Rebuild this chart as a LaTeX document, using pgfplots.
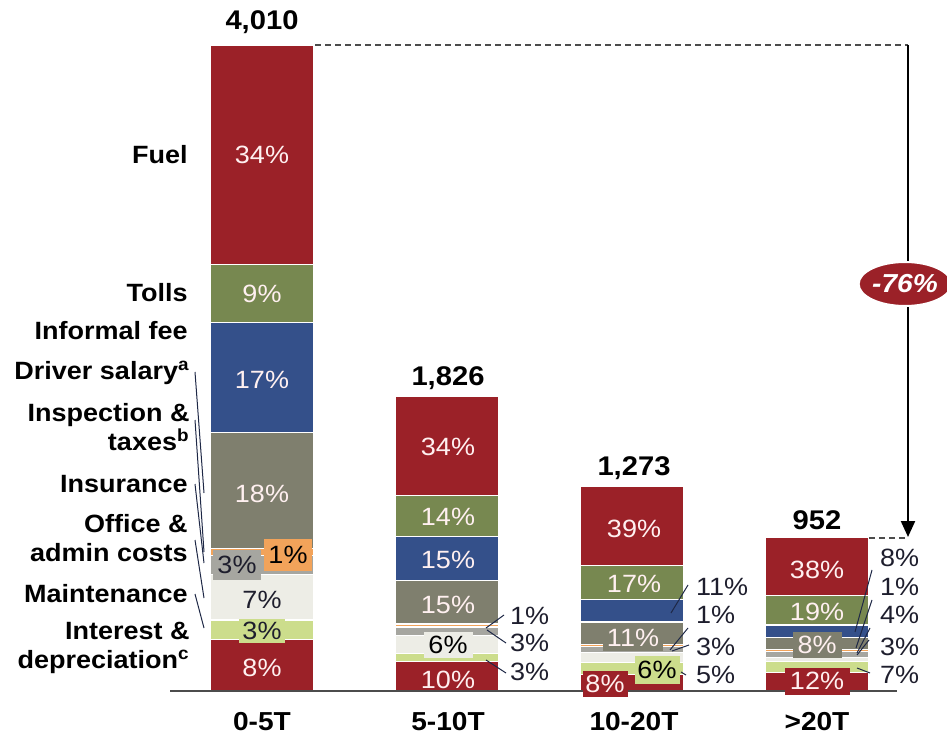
\documentclass[border=0pt]{standalone}
\usepackage{pgfplots}
\pgfplotsset{compat=1.18}
\usepackage{pgfplotstable}
\usepackage{fontspec}
\setmainfont{Liberation Sans}[FakeStretch=1.08]
\usetikzlibrary{shapes.geometric, arrows.meta}

\definecolor{cred}{RGB}{155,33,40}
\definecolor{cgreen}{RGB}{119,136,80}
\definecolor{cblue}{RGB}{52,80,138}
\definecolor{cdriver}{RGB}{127,127,110}
\definecolor{cinsur}{RGB}{166,166,160}
\definecolor{corange}{RGB}{242,163,90}
\definecolor{coffice}{RGB}{237,237,230}
\definecolor{cmaint}{RGB}{204,221,140}
\definecolor{cline}{RGB}{30,40,70}
\definecolor{ctext}{RGB}{30,30,45}

% cost per truck class, split by item, bottom to top
\pgfplotstableread{
x interest maint office insur inspect driver informal tolls fuel
0 320.8 120.3 280.7 120.3 40.1 721.8 681.7 360.9 1363.4
1 180.8 54.2 108.5 54.2 18.1 271.2 271.2 253.1 614.7
2 100.8 75.6 63.0 37.8 12.6 138.6 138.6 214.3 491.6
3 114.2 66.6 28.6 38.1 9.5 76.2 76.2 180.9 361.8
}\costs

\begin{document}
\begin{tikzpicture}
\begin{axis}[
  scale only axis, width=473.5pt, height=370pt,
  xmin=-1.4162, xmax=3.7027, ymin=-304.2, ymax=4289.3,
  hide axis, clip=false,
  ybar stacked, bar width=0.557,
  seg/.style={draw=white, line width=0.6pt},
]
\addplot[seg, fill=cred]    table[x=x, y=interest]{\costs};
\addplot[seg, fill=cmaint]  table[x=x, y=maint]{\costs};
\addplot[seg, fill=coffice] table[x=x, y=office]{\costs};
\addplot[seg, fill=cinsur]  table[x=x, y=insur]{\costs};
\addplot[seg, fill=corange] table[x=x, y=inspect]{\costs};
\addplot[seg, fill=cdriver] table[x=x, y=driver]{\costs};
\addplot[seg, fill=cblue]   table[x=x, y=informal]{\costs};
\addplot[seg, fill=cgreen]  table[x=x, y=tolls]{\costs};
\addplot[seg, fill=cred]    table[x=x, y=fuel]{\costs};
\coordinate (O) at (rel axis cs:0,1);
\end{axis}

% annotations in reference pixel units (origin top left)
\begin{scope}[shift={(O)}, x=0.5pt, y=-0.5pt, font=\fontsize{12.5}{14}\selectfont,
  lab/.style={font=\bfseries\fontsize{12.5}{14.5}\selectfont, anchor=east, align=right,
    text=black, inner xsep=0pt},
  pin/.style={draw=cline, line width=0.5pt},
  wt/.style={text=white!94!red},
  dk/.style={text=ctext},
  box/.style={inner sep=0pt, minimum width=#1*0.5pt},
  tot/.style={font=\bfseries\fontsize{13.5}{15}\selectfont},
  rl/.style={anchor=west, text=ctext}]

\draw[line width=1pt, black!70] (170,691) -- (897,691);

% totals and categories
\node[tot] at (262,22) {4,010};
\node[tot] at (448,378) {1,826};
\node[tot] at (634,468) {1,273};
\node[tot] at (817,520) {952};
\node[tot, font=\bfseries\fontsize{13}{15}\selectfont] at (262,722) {0-5T};
\node[tot, font=\bfseries\fontsize{13}{15}\selectfont] at (448,722) {5-10T};
\node[tot, font=\bfseries\fontsize{13}{15}\selectfont] at (634,722) {10-20T};
\node[tot, font=\bfseries\fontsize{13}{15}\selectfont] at (817,722) {>20T};

% item names
\node[lab] at (188,155) {Fuel};
\node[lab] at (188,293) {Tolls};
\node[lab] at (188,331) {Informal fee};
\node[lab] at (190,373) {Driver salary\textsuperscript{a}};
\node[lab] at (190,427) {Inspection \&\\taxes\textsuperscript{b}};
\node[lab] at (188,484) {Insurance};
\node[lab] at (188,538) {Office \&\\admin costs};
\node[lab] at (188,594) {Maintenance};
\node[lab] at (190,648) {Interest \&\\depreciation\textsuperscript{c}};
\draw[pin] (195,372) -- (204,493);
\draw[pin] (195,420) -- (204,552);
\draw[pin] (195,484) -- (204,563);
\draw[pin] (195,540) -- (204,598);
\draw[pin] (195,594) -- (204,628);

% 0-5T
\node[wt] at (262,155) {34\%};
\node[wt] at (262,294) {9\%};
\node[wt] at (262,380) {17\%};
\node[wt] at (262,494) {18\%};
\node[dk, fill=cinsur, box=48, minimum height=15pt] at (237,565) {3\%};
\node[text=black, fill=corange, box=48, minimum height=16pt] at (288,555) {1\%};
\node[dk] at (262,600) {7\%};
\node[dk, fill=cmaint, box=46, minimum height=12pt] at (262,631) {3\%};
\node[wt] at (262,668) {8\%};

% 5-10T
\node[wt] at (448,447) {34\%};
\node[wt] at (448,517) {14\%};
\node[wt] at (448,560) {15\%};
\node[wt] at (448,605) {15\%};
\node[text=black, fill=coffice, box=49, minimum height=13pt] at (448,645) {6\%};
\node[wt] at (448,680) {10\%};
\node[rl] at (503,616) {1\%};
\node[rl] at (503,643) {3\%};
\node[rl] at (503,672) {3\%};
\draw[pin] (504,615) -- (486,628);
\draw[pin] (506,643) -- (487,630);
\draw[pin] (506,673) -- (486,660);

% 10-20T
\node[wt] at (634,529) {39\%};
\node[wt] at (634,584) {17\%};
\node[wt, fill=cdriver, box=60, minimum height=13pt] at (633,638) {11\%};
\node[text=black, fill=cmaint, box=45, minimum height=14pt] at (657,670) {6\%};
\node[wt, fill=cred, box=45, minimum height=13pt] at (605,684) {8\%};
\node[rl] at (689,587) {11\%};
\node[rl] at (689,615) {1\%};
\node[rl] at (689,647) {3\%};
\node[rl] at (689,675) {5\%};
\draw[pin] (688,585) -- (671,613);
\draw[pin] (688,628) -- (670,650);
\draw[pin] (689,645) -- (672,651);
\draw[pin] (686,675) -- (681,672);

% >20T
\node[wt] at (817,570) {38\%};
\node[wt] at (817,612) {19\%};
\node[wt, fill=cdriver, box=49, minimum height=13pt] at (817,645) {8\%};
\node[wt, fill=cred, box=65, minimum height=13.5pt] at (817,681) {12\%};
\node[rl] at (873,558) {8\%};
\node[rl] at (873,587) {1\%};
\node[rl] at (873,615) {4\%};
\node[rl] at (873,647) {3\%};
\node[rl] at (873,675) {7\%};
\draw[pin] (872,570) -- (855,632);
\draw[pin] (872,600) -- (856,648);
\draw[pin] (870,628) -- (857,653);
\draw[pin] (869,640) -- (857,655);
\draw[pin] (870,673) -- (857,668);

% reduction arrow
\draw[black!70, line width=0.7pt, dash pattern=on 3pt off 2pt] (315,45) -- (908,45);
\draw[black!70, line width=0.7pt, dash pattern=on 3pt off 2pt] (869,538) -- (908,538);
\draw[black, line width=1.1pt, -{Triangle[length=8pt, width=7pt]}] (908,45) -- (908,537);
\node[ellipse, fill=cred, draw=white, line width=1pt, text=white, inner sep=0pt,
  minimum width=43pt, minimum height=22pt, font=\bfseries\itshape\fontsize{13}{15}\selectfont]
  at (905,284) {-76\%};

\pgfresetboundingbox
\path[use as bounding box] (0,0) rectangle (947,740);
\end{scope}
\end{tikzpicture}
\end{document}
